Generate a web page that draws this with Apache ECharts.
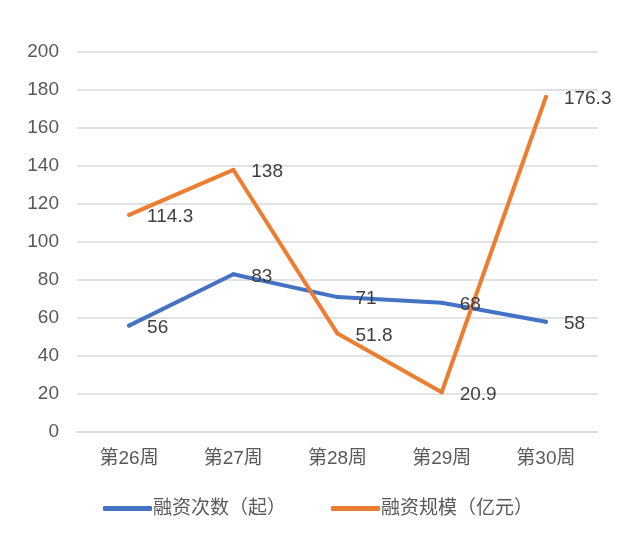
<!DOCTYPE html>
<html>
<head>
<meta charset="utf-8">
<script src="https://cdn.jsdelivr.net/npm/echarts@6/dist/echarts.min.js"></script>
<style>
html,body{margin:0;padding:0;background:#fff;}
#chart{width:640px;height:560px;}
</style>
</head>
<body>
<div id="chart"></div>
<script>
const categories = ['第26周', '第27周', '第28周', '第29周', '第30周'];
const countName = '融资次数（起）';
const countValues = [56, 83, 71, 68, 58];
const scaleName = '融资规模（亿元）';
const scaleValues = [114.3, 138, 51.8, 20.9, 176.3];
const yTicks = { min: 0, max: 200, interval: 20 };

const FONT = '"Liberation Sans", "Noto Sans CJK SC", sans-serif';
const chart = echarts.init(document.getElementById('chart'), null, { renderer: 'canvas' });

function lineSeries(name, data, color) {
  return {
    name: name,
    type: 'line',
    data: data,
    symbol: 'circle',
    symbolSize: 4,
    showSymbol: true,
    showAllSymbol: true,
    smooth: false,
    lineStyle: { color: color, width: 4, cap: 'round', join: 'round' },
    itemStyle: { color: color },
    label: {
      show: true,
      position: 'right',
      distance: 16,
      offset: [0, 2],
      color: '#404040',
      fontSize: 19,
      fontFamily: FONT
    },
    emphasis: { disabled: true }
  };
}

chart.setOption({
  animation: false,
  backgroundColor: '#fff',
  grid: { left: 77, right: 42, top: 52, bottom: 128, containLabel: false },
  legend: {
    top: 494,
    left: 98,
    icon: 'roundRect',
    itemWidth: 49,
    itemHeight: 5,
    itemGap: 45,
    textStyle: { color: '#595959', fontSize: 19, fontFamily: FONT, padding: [0, 0, 0, -4] },
    data: [countName, scaleName]
  },
  xAxis: {
    type: 'category',
    data: categories,
    boundaryGap: true,
    axisLine: { show: true, lineStyle: { color: '#D9D9D9', width: 1.5 } },
    axisTick: { show: false },
    axisLabel: { color: '#595959', fontSize: 19, fontFamily: FONT, margin: 17 }
  },
  yAxis: {
    type: 'value',
    min: yTicks.min,
    max: yTicks.max,
    interval: yTicks.interval,
    axisLine: { show: false },
    axisTick: { show: false },
    splitLine: { show: true, lineStyle: { color: '#D9D9D9', width: 1.5 } },
    axisLabel: { color: '#595959', fontSize: 19, fontFamily: FONT, margin: 18 }
  },
  series: [
    lineSeries(countName, countValues, '#4472C4'),
    lineSeries(scaleName, scaleValues, '#ED7D31')
  ]
});
</script>
</body>
</html>
